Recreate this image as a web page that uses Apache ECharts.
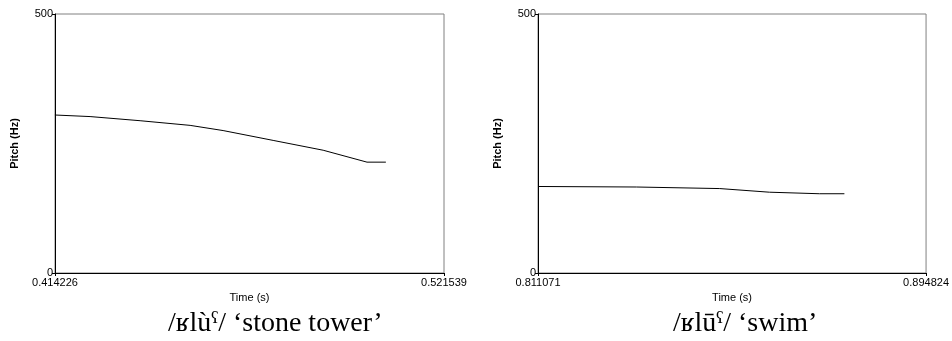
<!DOCTYPE html>
<html>
<head>
<meta charset="utf-8">
<script src="https://cdn.jsdelivr.net/npm/echarts@6/dist/echarts.min.js"></script>
<style>
    html, body { margin: 0; padding: 0; background: #fff; }
    #main { width: 952px; height: 341px; }
</style>
</head>
<body>
<div id="main"></div>
<script>
// 左图：/ʁlùˤ/ 'stone tower'
var leftRange = [0.414226, 0.521539];
var leftTime = [0.4142, 0.4239, 0.4377, 0.4515, 0.4606, 0.4744, 0.4882, 0.5003, 0.5055];
var leftPitch = [305, 302, 294, 285, 275, 256, 237, 214, 214];
// 右图：/ʁlūˤ/ 'swim'
var rightRange = [0.811071, 0.894824];
var rightTime = [0.8111, 0.8323, 0.8503, 0.8610, 0.8718, 0.8772];
var rightPitch = [167, 166, 163, 156, 153, 153];
var pitchTicks = [0, 500];
var captions = ['/ʁlùˤ/ \u2018stone tower\u2019', '/ʁlūˤ/ \u2018swim\u2019'];

function pairs(xs, ys) {
    var out = [];
    for (var i = 0; i < xs.length; i++) out.push([xs[i], ys[i]]);
    return out;
}

var font = 'Arial, "Liberation Sans", sans-serif';
var serif = '"Liberation Serif", "DejaVu Serif", serif';

function makeX(idx, range) {
    return {
        gridIndex: idx,
        type: 'value',
        min: range[0],
        max: range[1],
        name: 'Time (s)',
        nameLocation: 'middle',
        nameGap: 19,
        nameTextStyle: { color: '#000', fontSize: 11, fontFamily: font },
        axisLine: { show: true, lineStyle: { color: '#000', width: 1 } },
        axisTick: { show: true, length: 3, inside: false, customValues: range, lineStyle: { color: '#000' } },
        axisLabel: {
            color: '#000', fontSize: 11, fontFamily: font, margin: 4,
            customValues: range,
            formatter: function (v) { return v.toFixed(6); }
        },
        splitLine: { show: false }
    };
}

function makeY(idx) {
    return {
        gridIndex: idx,
        type: 'value',
        min: pitchTicks[0],
        max: pitchTicks[1],
        interval: 500,
        name: 'Pitch (Hz)',
        nameLocation: 'middle',
        nameGap: 35,
        nameTextStyle: { color: '#000', fontSize: 11, fontWeight: 'bold', fontFamily: font },
        axisLine: { show: true, lineStyle: { color: '#000', width: 1 } },
        axisTick: { show: true, length: 3, lineStyle: { color: '#000' } },
        axisLabel: { color: '#000', fontSize: 11, fontFamily: font, margin: 2 },
        splitLine: { show: false }
    };
}

var chart = echarts.init(document.getElementById('main'));
var option = {
    animation: false,
    backgroundColor: '#fff',
    grid: [
        { left: 55, right: 508, top: 14, bottom: 68, show: true, borderColor: '#808080', borderWidth: 1 },
        { left: 538, right: 25, top: 14, bottom: 68, show: true, borderColor: '#808080', borderWidth: 1 }
    ],
    xAxis: [makeX(0, leftRange), makeX(1, rightRange)],
    yAxis: [makeY(0), makeY(1)],
    series: [
        {
            type: 'line', xAxisIndex: 0, yAxisIndex: 0,
            data: pairs(leftTime, leftPitch),
            showSymbol: false,
            lineStyle: { color: '#000', width: 1 }
        },
        {
            type: 'line', xAxisIndex: 1, yAxisIndex: 1,
            data: pairs(rightTime, rightPitch),
            showSymbol: false,
            lineStyle: { color: '#000', width: 1 }
        }
    ],
    graphic: [
        {
            type: 'text', x: 168, y: 324,
            style: {
                text: captions[0], fill: '#000', fontSize: 28, fontFamily: serif,
                textAlign: 'left', textVerticalAlign: 'middle'
            }
        },
        {
            type: 'text', x: 673, y: 324,
            style: {
                text: captions[1], fill: '#000', fontSize: 28, fontFamily: serif,
                textAlign: 'left', textVerticalAlign: 'middle'
            }
        }
    ]
};
chart.setOption(option);
</script>
</body>
</html>
